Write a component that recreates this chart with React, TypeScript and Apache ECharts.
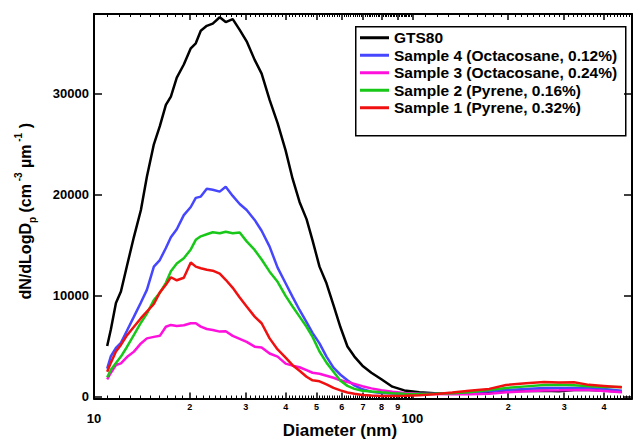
import React, { useEffect, useRef } from "react";
import * as echarts from "echarts";

const diameters = [11.0, 11.3, 11.72, 12.15, 12.69, 13.35, 14.04, 14.66, 15.42, 16.1, 16.82, 17.44, 18.2, 19.15, 20.14, 20.88, 21.65, 22.61, 23.61, 24.83, 25.93, 27.28, 28.69, 30.17, 31.97, 33.62, 35.62, 37.74, 39.99, 42.06, 44.23, 46.53, 48.59, 51.1, 53.75, 56.54, 59.47, 62.55, 65.79, 69.7, 74.36, 79.95, 86.58, 94.39, 105.2, 117.2, 133.5, 150.9, 174.4, 197.1, 227.7, 259.3, 288.9, 322.0, 358.8, 399.9, 455.3];

const gts80 = [5050, 6700, 9300, 10430, 12970, 15850, 18500, 21800, 25000, 26800, 28900, 29730, 31600, 32900, 34500, 35000, 36250, 36730, 36950, 37580, 37100, 37400, 36330, 35200, 33360, 32000, 29400, 27100, 24400, 21600, 19300, 17600, 15500, 12900, 11250, 9100, 6900, 5000, 4000, 3100, 2400, 1750, 1020, 650, 460, 360, 360, 400, 460, 590, 600, 620, 560, 680, 690, 650, 520];

const sample4 = [2800, 4050, 4850, 5350, 6550, 7950, 9350, 10600, 12900, 13550, 14750, 15800, 16600, 18000, 18800, 19700, 19830, 20600, 20500, 20320, 20800, 19900, 19100, 18500, 17520, 16450, 14880, 12800, 11250, 9900, 8610, 7400, 6350, 5310, 4000, 2900, 2200, 1650, 1150, 760, 520, 400, 340, 300, 290, 320, 380, 470, 560, 690, 800, 880, 880, 900, 880, 800, 620];

const sample3 = [1750, 2400, 3170, 3330, 3950, 4490, 5300, 5800, 5950, 6050, 6950, 7130, 7030, 7100, 7300, 7300, 6960, 6730, 6630, 6470, 6500, 6050, 5750, 5450, 4980, 4900, 4300, 4000, 3300, 3100, 2940, 2650, 2400, 2300, 2100, 1900, 1650, 1480, 1300, 1070, 850, 660, 520, 400, 330, 300, 270, 270, 330, 460, 560, 640, 660, 690, 680, 600, 460];

const sample2 = [1950, 2700, 3370, 4000, 4950, 6140, 7350, 8250, 9600, 10300, 11300, 12450, 13200, 13730, 14600, 15550, 15900, 16100, 16300, 16200, 16350, 16200, 16270, 15400, 14550, 13600, 12400, 11400, 10000, 8950, 7950, 6950, 5950, 4500, 3400, 2500, 1600, 1100, 800, 620, 540, 460, 380, 330, 300, 320, 360, 480, 700, 890, 1050, 1180, 1220, 1150, 1060, 1000, 990];

const sample1 = [2500, 3400, 4500, 5150, 6100, 6950, 7800, 8450, 9200, 10350, 11100, 11850, 11550, 11800, 13300, 12900, 12740, 12600, 12500, 12200, 11600, 10800, 9850, 8950, 7950, 7300, 5800, 4700, 3900, 3150, 2600, 2000, 1650, 1550, 1250, 900, 650, 450, 330, 200, 150, 100, 100, 130, 180, 280, 450, 620, 800, 1190, 1350, 1480, 1430, 1450, 1200, 1090, 960];

const seriesNames = [
  "GTS80",
  "Sample 4 (Octacosane, 0.12%)",
  "Sample 3 (Octacosane, 0.24%)",
  "Sample 2 (Pyrene, 0.16%)",
  "Sample 1 (Pyrene, 0.32%)",
];
const seriesValues = [gts80, sample4, sample3, sample2, sample1];
const seriesColors = ["#000000", "#4646ff", "#ff10dc", "#18c818", "#f01010"];

const majorXTicks = [10, 20, 30, 40, 50, 60, 70, 80, 90, 100, 200, 300, 400];
const minorXTicks = [
  11, 12, 13, 14, 15, 16, 17, 18, 19,
  21, 22, 23, 24, 25, 26, 27, 28, 29,
  31, 32, 33, 34, 35, 36, 37, 38, 39,
  41, 42, 43, 44, 45, 46, 47, 48, 49,
  51, 52, 53, 54, 55, 56, 57, 58, 59,
  61, 62, 63, 64, 65, 66, 67, 68, 69,
  71, 72, 73, 74, 75, 76, 77, 78, 79,
  81, 82, 83, 84, 85, 86, 87, 88, 89,
  91, 92, 93, 94, 95, 96, 97, 98, 99,
  110, 120, 130, 140, 150, 160, 170, 180, 190,
  210, 220, 230, 240, 250, 260, 270, 280, 290,
  310, 320, 330, 340, 350, 360, 370, 380, 390,
  410, 420, 430, 440, 450, 460, 470, 480,
];
const yTicks = [0, 10000, 20000, 30000];

const X_MIN = 10;
const X_MAX = 490;
const Y_MIN = -150;
const Y_MAX = 37900;

const FONT = "'Liberation Sans', Arial, Helvetica, sans-serif";

export default function App() {
  const ref = useRef<HTMLDivElement>(null);

  useEffect(() => {
    if (!ref.current) return;
    const chart = echarts.init(ref.current, undefined, { renderer: "svg" });

    const lineAxis = { show: true, onZero: false, lineStyle: { color: "#000", width: 2 } };

    const xBase = (pos: string) => ({
      type: "log",
      logBase: 10,
      min: X_MIN,
      max: X_MAX,
      position: pos,
      gridIndex: 0,
      splitLine: { show: false },
      minorSplitLine: { show: false },
    });

    const option: any = {
      animation: false,
      backgroundColor: "#ffffff",
      textStyle: { fontFamily: FONT },
      grid: { left: 94, right: 5, top: 14, bottom: 42.5, containLabel: false, outerBoundsMode: "none" },
      graphic: {
        elements: [
          {
            type: "rect",
            z: 100,
            shape: { x: 355.75, y: 26.75, width: 270, height: 109 },
            style: { fill: "none", stroke: "#000000", lineWidth: 1.5 },
          },
        ],
      },
      legend: {
        orient: "vertical",
        left: 355,
        top: 26,
        padding: [3, 4, 3, 5],
        itemWidth: 29,
        itemHeight: 3,
        itemGap: 0,
        itemTextGap: 6,
        icon: "rect",
        backgroundColor: "#ffffff",
        selectedMode: false,
        data: seriesNames,
        textStyle: {
          fontFamily: FONT,
          fontWeight: "bold",
          fontSize: 15.5,
          color: "#000",
          lineHeight: 17.5,
        },
      },
      xAxis: [
        {
          ...xBase("bottom"),
          axisLine: lineAxis,
          axisTick: { show: true, inside: true, length: 6, customValues: majorXTicks, lineStyle: { color: "#000", width: 1.5 } },
          axisLabel: {
            show: true,
            customValues: majorXTicks,
            margin: 3,
            color: "#000",
            fontFamily: FONT,
            fontWeight: "bold",
            formatter: (v: number) => {
              const r = Math.round(v);
              if (r === 10 || r === 100) return `{big|${r}}`;
              return `{sm|${String(r)[0]}}`;
            },
            rich: {
              sm: { fontSize: 9, fontWeight: "bold", fontFamily: FONT, lineHeight: 11, color: "#000" },
              big: { fontSize: 13, fontWeight: "bold", fontFamily: FONT, lineHeight: 34, color: "#000" },
            },
          },
          name: "Diameter (nm)",
          nameLocation: "middle",
          nameGap: 23,
          nameMoveOverlap: false,
          nameTextStyle: {
            fontFamily: FONT,
            fontWeight: "bold",
            fontSize: 17,
            color: "#000",
            padding: [0, 46, 0, 0],
          },
        },
        {
          ...xBase("bottom"),
          axisLine: { show: false, onZero: false },
          axisTick: { show: true, inside: true, length: 3, customValues: minorXTicks, lineStyle: { color: "#000", width: 1 } },
          axisLabel: { show: false },
        },
        {
          ...xBase("top"),
          axisLine: lineAxis,
          axisTick: { show: true, inside: true, length: 6, customValues: majorXTicks, lineStyle: { color: "#000", width: 1.5 } },
          axisLabel: { show: false },
        },
        {
          ...xBase("top"),
          axisLine: { show: false, onZero: false },
          axisTick: { show: true, inside: true, length: 3, customValues: minorXTicks, lineStyle: { color: "#000", width: 1 } },
          axisLabel: { show: false },
        },
      ],
      yAxis: [
        {
          type: "value",
          min: Y_MIN,
          max: Y_MAX,
          position: "left",
          splitLine: { show: false },
          axisLine: lineAxis,
          axisTick: { show: true, inside: true, length: 8, customValues: yTicks, lineStyle: { color: "#000", width: 1.5 } },
          axisLabel: {
            show: true,
            customValues: yTicks,
            margin: 5,
            color: "#000",
            fontFamily: FONT,
            fontWeight: "bold",
            fontSize: 13,
            formatter: (v: number) => String(Math.round(v)),
          },
          name:
            "{b|dN/dLogD}{sub|p}{b| (cm}{sup| -3}{b| µm}{sup| -1}{b| )}",
          nameLocation: "middle",
          nameGap: 57,
          nameMoveOverlap: false,
          nameTextStyle: {
            color: "#000",
            fontFamily: FONT,
            padding: [0, 10, 0, 0],
            rich: {
              b: { fontSize: 16, fontWeight: "bold", fontFamily: FONT, color: "#000", lineHeight: 24, verticalAlign: "middle" },
              sub: { fontSize: 10, fontWeight: "bold", fontFamily: FONT, color: "#000", lineHeight: 10, verticalAlign: "bottom" },
              sup: { fontSize: 10, fontWeight: "bold", fontFamily: FONT, color: "#000", lineHeight: 10, verticalAlign: "top" },
            },
          },
        },
        {
          type: "value",
          min: Y_MIN,
          max: Y_MAX,
          position: "right",
          splitLine: { show: false },
          axisLine: lineAxis,
          axisTick: { show: true, inside: true, length: 8, customValues: yTicks, lineStyle: { color: "#000", width: 1.5 } },
          axisLabel: { show: false },
        },
      ],
      series: seriesNames.map((name, k) => ({
        name,
        type: "line",
        xAxisIndex: 0,
        yAxisIndex: 0,
        symbol: "none",
        showSymbol: false,
        smooth: false,
        data: diameters.map((d, i) => [d, seriesValues[k][i]]),
        lineStyle: { color: seriesColors[k], width: 2.5 },
        itemStyle: { color: seriesColors[k] },
        z: 2 + k,
      })),
    };

    chart.setOption(option);
    return () => chart.dispose();
  }, []);

  return (
    <div
      ref={ref}
      style={{ position: "fixed", left: 0, top: 0, width: 637, height: 441, background: "#fff" }}
    />
  );
}
